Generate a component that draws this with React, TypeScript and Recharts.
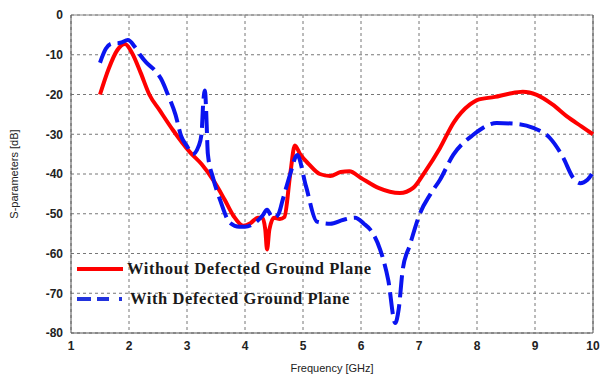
import { LineChart, Line, XAxis, YAxis, CartesianGrid, ReferenceLine } from "recharts";

const xTicks = [1, 2, 3, 4, 5, 6, 7, 8, 9, 10];
const yTicks = [0, -10, -20, -30, -40, -50, -60, -70, -80];

// Without Defected Ground Plane
const redFreq = [1.5, 1.65, 1.8, 1.93, 2.05, 2.2, 2.35, 2.53, 2.76, 3.05, 3.25, 3.45, 3.65, 3.8, 3.97, 4.1, 4.22, 4.3, 4.35, 4.38, 4.42, 4.5, 4.6, 4.68, 4.78, 4.86, 4.95, 5.1, 5.29, 5.47, 5.65, 5.8, 6.0, 6.3, 6.67, 6.9, 7.1, 7.36, 7.6, 7.88, 8.0, 8.31, 8.55, 8.79, 9.03, 9.3, 9.55, 9.8, 10];
const redDb = [-20, -13.5, -8.8, -7.3, -9.5, -14.5, -20, -24, -29, -34.5, -37.5, -41.5, -46.5, -50.5, -53, -52.3, -51, -51, -54, -59, -54, -51, -51.3, -50.8, -40, -32.8, -35, -37.5, -40, -40.5, -39.5, -39.3, -41, -43.5, -44.8, -43.5, -39.5, -33.5, -27, -22.5, -21.4, -20.6, -19.8, -19.3, -20.1, -22.5, -25.5, -28, -30];

// With Defected Ground Plane
const blueFreq = [1.5, 1.6, 1.7, 1.85, 1.98, 2.1, 2.19, 2.3, 2.45, 2.55, 2.67, 2.8, 2.9, 3.0, 3.1, 3.2, 3.25, 3.28, 3.31, 3.33, 3.36, 3.45, 3.57, 3.74, 3.9, 4.0, 4.15, 4.3, 4.38, 4.45, 4.5, 4.58, 4.65, 4.78, 4.9, 5.05, 5.24, 5.47, 5.7, 5.9, 6.05, 6.16, 6.33, 6.47, 6.59, 6.65, 6.72, 6.84, 7.02, 7.2, 7.36, 7.59, 7.93, 8.34, 8.69, 8.97, 9.26, 9.48, 9.66, 9.78, 9.9, 9.98];
const blueDb = [-12, -8.5, -7.2, -7, -6.3, -8, -10, -12, -14, -16, -20, -25, -30.5, -33, -35, -33, -30, -22, -19, -24, -35, -41, -46.5, -52.3, -53.3, -53.3, -52.5, -50.5, -49, -50.5, -51, -50, -46.5, -40, -35.2, -43, -52, -52.5, -51.5, -51, -52.5, -54, -59, -66.7, -77.5, -74, -64, -58, -49.8, -45, -41.5, -35.2, -30.2, -27.2, -27.4, -28.4, -31, -35.7, -41, -42.3, -41.5, -40];

const redData = redFreq.map((f, i) => ({ f, v: redDb[i] }));
const blueData = blueFreq.map((f, i) => ({ f, v: blueDb[i] }));

const tickStyle = { fontFamily: "Liberation Sans, Arial, sans-serif", fontSize: 12, fontWeight: 700, fill: "#222" };

const LegendBox = () => (
  <div style={{ position: "absolute", left: 77, top: 254, fontFamily: "Liberation Serif, Times New Roman, serif", fontWeight: 700, fontSize: 16.5, letterSpacing: 0.6, color: "#1a1a1a", lineHeight: "30px", whiteSpace: "nowrap" }}>
    <div style={{ display: "flex", alignItems: "center" }}>
      <svg width={50} height={10}>
        <line x1={0} y1={5} x2={46} y2={5} stroke="#ff0000" strokeWidth={4} />
      </svg>
      <span>Without Defected Ground Plane</span>
    </div>
    <div style={{ display: "flex", alignItems: "center" }}>
      <svg width={53} height={10}>
        <line x1={0} y1={5} x2={46} y2={5} stroke="#2233dd" strokeWidth={4} strokeDasharray="14 6 12 10 3" />
      </svg>
      <span>With Defected Ground Plane</span>
    </div>
  </div>
);

export default function App() {
  return (
    <div style={{ position: "absolute", left: 0, top: 0, width: 602, height: 377, background: "#fff" }}>
      <LineChart width={602} height={377} margin={{ top: 15, right: 9, bottom: 14, left: 31 }}>
        <CartesianGrid stroke="#777" strokeDasharray="3 3" />
        <XAxis
          type="number"
          dataKey="f"
          domain={[1, 10]}
          ticks={xTicks}
          height={30}
          tick={tickStyle}
          tickLine={false}
          axisLine={{ stroke: "#555" }}
          allowDuplicatedCategory={false}
          label={{ value: "Frequency [GHz]", position: "insideBottom", offset: -9, style: { fontFamily: "Liberation Sans, Arial, sans-serif", fontSize: 11, fill: "#222" } }}
        />
        <YAxis
          type="number"
          domain={[-80, 0]}
          ticks={yTicks}
          width={40}
          tick={tickStyle}
          tickLine={false}
          axisLine={{ stroke: "#555" }}
          label={{ value: "S-parameters [dB]", angle: -90, position: "insideLeft", offset: -17, style: { textAnchor: "middle", fontFamily: "Liberation Sans, Arial, sans-serif", fontSize: 11, fill: "#222" } }}
        />
        <ReferenceLine y={0} stroke="#888" />
        <ReferenceLine x={10} stroke="#555" />
        <Line data={redData} dataKey="v" type="monotone" stroke="#ff0000" strokeWidth={4} dot={false} isAnimationActive={false} />
        <Line data={blueData} dataKey="v" type="monotone" stroke="#0a14f0" strokeWidth={4} strokeDasharray="22 7" dot={false} isAnimationActive={false} />
      </LineChart>
      <LegendBox />
    </div>
  );
}
